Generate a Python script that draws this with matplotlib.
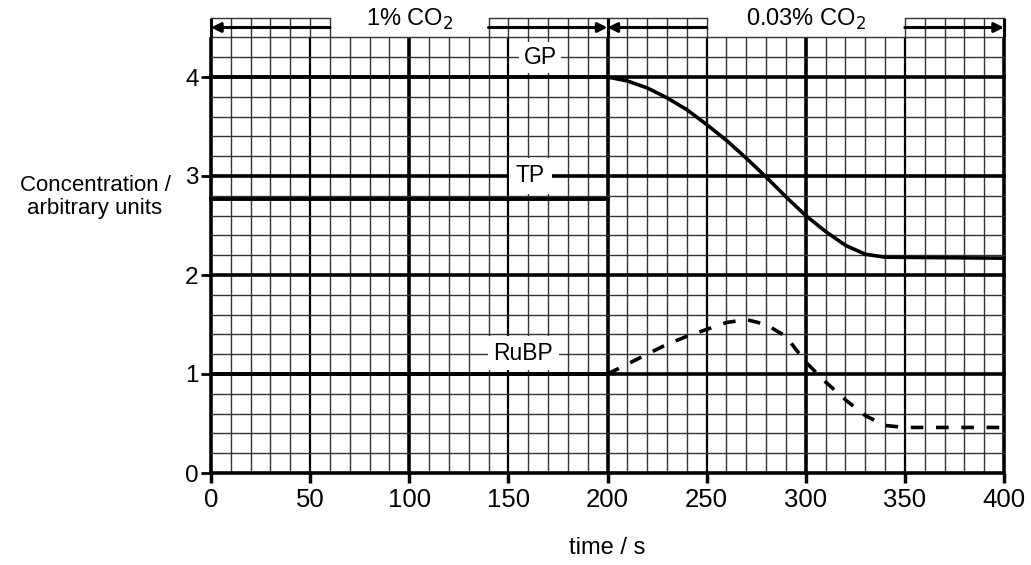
import numpy as np
import matplotlib
matplotlib.use("Agg")
import matplotlib.pyplot as plt

plt.rcParams['font.family'] = ['Liberation Sans', 'DejaVu Sans']

# ---- data ----
gp_time = [0, 200, 210, 220, 230, 240, 250, 260, 270, 280, 290, 300, 310, 320, 330, 340, 400]
gp_conc = [4.0, 4.0, 3.96, 3.89, 3.79, 3.67, 3.52, 3.36, 3.18, 2.99, 2.79, 2.60, 2.44, 2.30, 2.21, 2.18, 2.17]

tp_time = [0, 200]
tp_conc = [2.77, 2.77]

rubp_time_solid = [0, 200]
rubp_conc_solid = [1.0, 1.0]
rubp_time_dash = [200, 210, 220, 230, 240, 250, 260, 270, 280, 290, 300, 310, 320, 330, 340, 350, 400]
rubp_conc_dash = [1.0, 1.1, 1.2, 1.3, 1.38, 1.45, 1.52, 1.55, 1.5, 1.38, 1.12, 0.92, 0.74, 0.58, 0.48, 0.46, 0.46]

x_ticks = [0, 50, 100, 150, 200, 250, 300, 350, 400]
y_ticks = [0, 1, 2, 3, 4]

phase_labels = ["1% CO$_2$", "0.03% CO$_2$"]
phase_bounds = [(0, 200), (200, 400)]

# ---- figure ----
fig = plt.figure(figsize=(10.31, 5.65), dpi=100)
ax = fig.add_axes([211 / 1031, (565 - 473) / 565, 793 / 1031, 4.6 * 99 / 565])
ax.set_xlim(0, 400)
ax.set_ylim(0, 4.6)
for s in ax.spines.values():
    s.set_visible(False)

gcol = '0.2'
glw = 1.0
top = 4.4
# grid
for xv in np.arange(0, 401, 10):
    if xv % 100 == 0:
        lw, c = 2.6, 'black'
    elif xv % 50 == 0:
        lw, c = 1.6, 'black'
    else:
        lw, c = glw, gcol
    ax.plot([xv, xv], [0, top], color=c, lw=lw, zorder=1, clip_on=False, solid_capstyle='butt')
for yv in np.arange(0, top + 0.01, 0.2):
    is_major = abs(yv - round(yv)) < 1e-6
    ax.plot([0, 400], [yv, yv], color='black' if is_major else gcol,
            lw=2.6 if is_major else glw, zorder=1, clip_on=False)

# arrow boxes in the top strip
boxes = [(0, 60), (140, 200), (200, 250), (350, 400)]
for (a, b) in boxes:
    for xv in np.arange(a, b + 1, 10):
        thick = xv in (0, 200, 400)
        ax.plot([xv, xv], [top, 4.6], color='black' if thick else gcol,
                lw=2.2 if thick else glw, zorder=1, clip_on=False, solid_capstyle='butt')
    ax.plot([a, b], [4.6, 4.6], color=gcol, lw=glw, zorder=1, clip_on=False)

# arrows
arrow_kw = dict(arrowstyle='-|>', color='black', lw=2.2, mutation_scale=14,
                shrinkA=0, shrinkB=0)
ax.annotate('', xy=(0, 4.5), xytext=(60, 4.5), arrowprops=arrow_kw, zorder=4, annotation_clip=False)
ax.annotate('', xy=(200, 4.5), xytext=(140, 4.5), arrowprops=arrow_kw, zorder=4, annotation_clip=False)
ax.annotate('', xy=(200, 4.5), xytext=(250, 4.5), arrowprops=arrow_kw, zorder=4, annotation_clip=False)
ax.annotate('', xy=(400, 4.5), xytext=(350, 4.5), arrowprops=arrow_kw, zorder=4, annotation_clip=False)

for lab, (a, b) in zip(phase_labels, phase_bounds):
    ax.text((a + b) / 2, 4.58, lab, ha='center', va='center', fontsize=17, zorder=5, clip_on=False)

# data lines
ax.plot(gp_time, gp_conc, color='black', lw=2.6, zorder=3, solid_joinstyle='round', clip_on=False)
ax.plot(tp_time, tp_conc, color='black', lw=2.8, zorder=3, clip_on=False)
ax.plot(rubp_time_solid, rubp_conc_solid, color='black', lw=2.8, zorder=3, clip_on=False)
ax.plot(rubp_time_dash, rubp_conc_dash, color='black', lw=2.6, zorder=3,
        linestyle=(0, (3.5, 3.5)), clip_on=False)

# labels on graph
ax.text(166, 4.2, 'GP', ha='center', va='center', fontsize=16.5,
        bbox=dict(fc='white', ec='none', pad=3), zorder=5)
ax.text(161, 3.0, 'TP', ha='center', va='center', fontsize=16.5,
        bbox=dict(fc='white', ec='none', pad=5), zorder=5)
ax.text(157.5, 1.21, 'RuBP', ha='center', va='center', fontsize=16.5,
        bbox=dict(fc='white', ec='none', pad=4), zorder=5)

# ticks
ax.set_xticks(x_ticks)
ax.set_xticklabels([str(v) for v in x_ticks], fontsize=18.5)
ax.set_yticks(y_ticks)
ax.set_yticklabels([str(v) for v in y_ticks], fontsize=17.5)
ax.tick_params(axis='x', direction='out', length=7, width=2.5, pad=4)
ax.tick_params(axis='y', direction='out', length=7, width=2, pad=2)

fig.text(95 / 1031, 1 - 197 / 565, 'Concentration /\narbitrary units', ha='center', va='center',
         multialignment='center', fontsize=16, linespacing=1.15)
fig.text(607 / 1031, 1 - 548 / 565, 'time / s', ha='center', va='center', fontsize=17)

fig.savefig('out.png', dpi=100)
